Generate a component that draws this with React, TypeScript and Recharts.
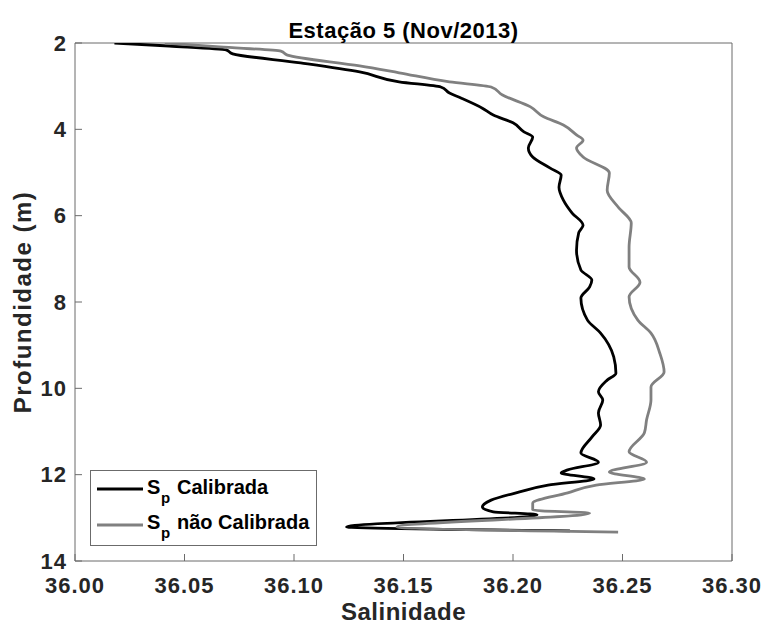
import { ScatterChart, Scatter, XAxis, YAxis } from 'recharts'

const calibradaSal = [
  36.018, 36.043, 36.069, 36.072, 36.103, 36.13, 36.148, 36.167, 36.171, 36.176,
  36.186, 36.191, 36.2, 36.205, 36.209, 36.207, 36.209, 36.217, 36.222, 36.221,
  36.223, 36.227, 36.232, 36.23, 36.229, 36.231, 36.236, 36.235, 36.231, 36.234,
  36.24, 36.246, 36.247, 36.243, 36.239, 36.241, 36.239, 36.24, 36.236, 36.231,
  36.239, 36.225, 36.222, 36.237, 36.216, 36.203, 36.19, 36.186, 36.191, 36.211,
  36.124, 36.226,
]
const calibradaProf = [
  2.0, 2.07, 2.16, 2.25, 2.46, 2.67, 2.9, 3.02, 3.16, 3.27,
  3.51, 3.67, 3.85, 4.06, 4.18, 4.43, 4.64, 4.9, 5.06, 5.34,
  5.64, 5.94, 6.22, 6.4, 6.8, 7.26, 7.49, 7.65, 7.91, 8.42,
  8.72, 9.27, 9.65, 9.81, 10.08, 10.27, 10.57, 10.85, 11.13, 11.5,
  11.71, 11.89, 11.96, 12.1, 12.24, 12.4, 12.59, 12.75, 12.86, 12.93,
  13.21, 13.3,
]

const naoCalSal = [
  36.041, 36.066, 36.094, 36.097, 36.13, 36.148, 36.171, 36.19, 36.195, 36.208,
  36.214, 36.223, 36.229, 36.232, 36.229, 36.232, 36.244, 36.243, 36.248, 36.254,
  36.253, 36.253, 36.258, 36.253, 36.257, 36.263, 36.267, 36.269, 36.263, 36.263,
  36.261, 36.26, 36.253, 36.261, 36.244, 36.26, 36.238, 36.225, 36.209, 36.209,
  36.235, 36.147, 36.248,
]
const naoCalProf = [
  2.0, 2.09, 2.19, 2.28, 2.53, 2.69, 2.9, 3.02, 3.2, 3.48,
  3.71, 3.9, 4.13, 4.25, 4.43, 4.64, 5.01, 5.41, 5.8, 6.17,
  6.73, 7.19, 7.54, 7.88, 8.42, 8.72, 9.18, 9.62, 9.97, 10.27,
  10.73, 11.03, 11.47, 11.71, 11.94, 12.1, 12.24, 12.42, 12.66, 12.82,
  12.89, 13.21, 13.33,
]

const salTicks = [36.0, 36.05, 36.1, 36.15, 36.2, 36.25, 36.3]
const profTicks = [2, 4, 6, 8, 10, 12, 14]

const calibrada = calibradaSal.map((s, i) => ({ s, d: calibradaProf[i] }))
const naoCalibrada = naoCalSal.map((s, i) => ({ s, d: naoCalProf[i] }))

const FONT = '"Liberation Sans", Arial, Helvetica, sans-serif'
const AXIS = '#6b6b6b'
const TEXT = '#262626'

const noDot = () => <g />

const App = () => {
  return (
    <div style={{ position: 'absolute', left: 0, top: 0, width: 764, height: 626, background: '#fff', fontFamily: FONT }}>
      <ScatterChart width={764} height={626} margin={{ top: 42, right: 31, left: 0, bottom: 0 }}>
        <XAxis
          xAxisId={0}
          type="number"
          dataKey="s"
          domain={[36, 36.3]}
          ticks={salTicks}
          tickFormatter={(v) => v.toFixed(2)}
          height={65}
          tickSize={-7}
          tickMargin={23}
          stroke={AXIS}
          tick={{ fill: TEXT, fontSize: 22, fontWeight: 700, fontFamily: FONT, letterSpacing: 1 }}
          allowDataOverflow
          label={{ value: 'Salinidade', position: 'center', dy: 18, fill: TEXT, fontSize: 24, fontWeight: 700, fontFamily: FONT, style: { letterSpacing: '0.5px' } }}
        />
        <XAxis
          xAxisId="top"
          orientation="top"
          type="number"
          domain={[36, 36.3]}
          ticks={salTicks}
          height={1}
          tickSize={-7}
          tick={false}
          stroke={AXIS}
          allowDataOverflow
        />
        <YAxis
          yAxisId={0}
          type="number"
          dataKey="d"
          reversed
          domain={[2, 14]}
          ticks={profTicks}
          width={75}
          tickSize={-7}
          tickMargin={15}
          stroke={AXIS}
          tick={{ fill: TEXT, fontSize: 22, fontWeight: 700, fontFamily: FONT, letterSpacing: 1 }}
          allowDataOverflow
          label={{ value: 'Profundidade (m)', angle: -90, position: 'center', dx: -15, fill: TEXT, fontSize: 24, fontWeight: 700, fontFamily: FONT, style: { letterSpacing: '1.5px' } }}
        />
        <YAxis
          yAxisId="right"
          orientation="right"
          type="number"
          reversed
          domain={[2, 14]}
          ticks={profTicks}
          width={1}
          tickSize={-7}
          tick={false}
          stroke={AXIS}
          allowDataOverflow
        />
        <Scatter
          name="Sp Calibrada"
          data={calibrada}
          line={{ stroke: '#000000', strokeWidth: 2.8 }}
          lineJointType="monotoneY"
          shape={noDot}
          fill="none"
          isAnimationActive={false}
        />
        <Scatter
          name="Sp não Calibrada"
          data={naoCalibrada}
          line={{ stroke: '#808080', strokeWidth: 2.8 }}
          lineJointType="monotoneY"
          shape={noDot}
          fill="none"
          isAnimationActive={false}
        />
      </ScatterChart>

      <div style={{ position: 'absolute', left: 0, top: 19, width: 807, textAlign: 'center', fontSize: 22, fontWeight: 700, color: '#000', lineHeight: '24px', letterSpacing: '0.5px' }}>
        Estação 5 (Nov/2013)
      </div>

      <svg width={764} height={626} style={{ position: 'absolute', left: 0, top: 0, pointerEvents: 'none' }}>
        <rect x={90.5} y={470.5} width={226} height={75} fill="#fff" stroke={AXIS} strokeWidth={1} />
        <line x1={97} x2={143} y1={489} y2={489} stroke="#000" strokeWidth={2.8} />
        <text x={147} y={494} fontSize={20} fontWeight={700} fill="#000" fontFamily={FONT}>S</text>
        <text x={161} y={503} fontSize={15} fontWeight={700} fill="#000" fontFamily={FONT}>p</text>
        <text x={177} y={494} fontSize={20} fontWeight={700} fill="#000" fontFamily={FONT}>Calibrada</text>
        <line x1={97} x2={143} y1={525} y2={525} stroke="#808080" strokeWidth={2.8} />
        <text x={147} y={529} fontSize={20} fontWeight={700} fill="#000" fontFamily={FONT}>S</text>
        <text x={161} y={538} fontSize={15} fontWeight={700} fill="#000" fontFamily={FONT}>p</text>
        <text x={177} y={529} fontSize={20} fontWeight={700} fill="#000" fontFamily={FONT}>não Calibrada</text>
      </svg>
    </div>
  )
}

export default App
